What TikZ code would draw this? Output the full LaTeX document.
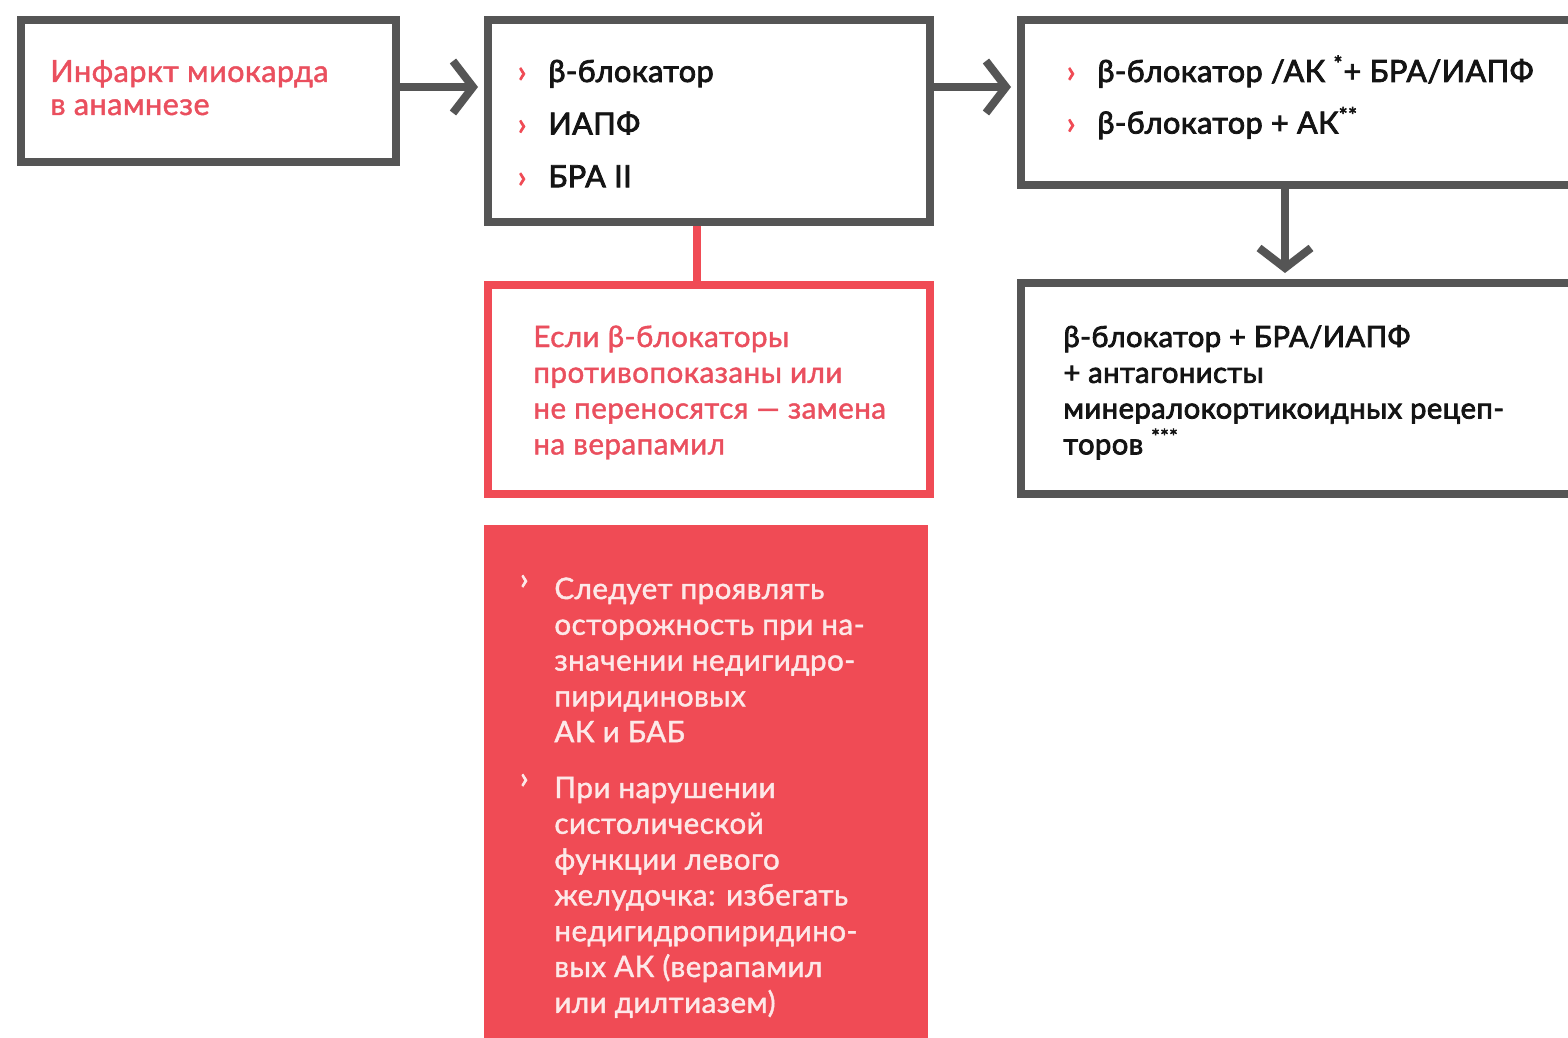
\documentclass[tikz,border=0pt]{standalone}
\usepackage{fontspec}
\setmainfont{Lato}[FakeBold=1.4, LetterSpace=1.5]
\newfontfamily\heavyfont{Lato}[FakeBold=2.6, LetterSpace=1.5]
\usetikzlibrary{arrows.meta}

\definecolor{frame}{HTML}{555555}
\definecolor{accent}{HTML}{F04B55}
\definecolor{rosetext}{HTML}{EA4F5E}
\definecolor{inktext}{HTML}{141414}
\definecolor{paletext}{HTML}{FDE8E8}

% bullet mark hanging left of a line
\newcommand\bulmark[1]{\leavevmode\llap{\textcolor{#1}{\heavyfont ›}\hspace{11pt}}}
\newcommand\bulraised[1]{\leavevmode\llap{\raisebox{5pt}{\textcolor{#1}{\heavyfont ›}}\hspace{13pt}}}

\tikzset{
  box/.style={draw=frame, line width=4pt, inner sep=0pt, anchor=north west},
  redbox/.style={draw=accent, line width=4pt, inner sep=0pt, anchor=north west},
  notebox/.style={fill=accent, draw=none, inner sep=0pt, anchor=north west},
  flow/.style={draw=frame, line width=4pt, -{Straight Barb[length=10pt,width=26pt]}},
  link/.style={draw=accent, line width=4pt},
  txt/.style={anchor=base west, inner sep=0pt},
  bigtext/.style={font=\heavyfont\fontsize{15.3}{26.3}\selectfont},
  redtext/.style={font=\fontsize{15.3}{16.5}\selectfont, text=rosetext},
  smalltext/.style={font=\fontsize{14.8}{17.9}\selectfont},
  smallheavy/.style={font=\heavyfont\fontsize{14.6}{17.9}\selectfont},
}

\begin{document}
\begin{tikzpicture}[x=0.5pt, y=-0.5pt]
  \useasboundingbox (0,0) rectangle (1568,1038);
  \clip (0,0) rectangle (1568,1038);
  \fill[white] (0,0) rectangle (1568,1038);

  % frames
  \node[box, minimum width=187.5pt, minimum height=71pt] (b1) at (17,16) {};
  \node[box, minimum width=221pt, minimum height=101pt] (b2) at (484,16) {};
  \node[box, minimum width=291.5pt, minimum height=82.5pt] (b3) at (1017,16) {};
  \node[box, minimum width=291.5pt, minimum height=105.5pt] (b4) at (1017,279) {};
  \node[redbox, minimum width=221pt, minimum height=104.5pt] (b5) at (484,281) {};
  \node[notebox, minimum width=222pt, minimum height=270pt] (b6) at (484,525) {};

  % connectors
  \draw[flow, shorten >=3pt] (b1.east |- 0,87) -- (b2.west |- 0,87);
  \draw[flow, shorten >=3pt] (b2.east |- 0,87) -- (b3.west |- 0,87);
  \coordinate (down) at (1285,0);
  \draw[flow, shorten >=3pt] (b3.south -| down) -- (b4.north -| down);
  \coordinate (side) at (697,0);
  \draw[link] (b2.south -| side) -- (b5.north -| side);

  % texts
  \node[txt, redtext] (t1) at (50,82)
    {\parbox[t]{180pt}{Инфаркт миокарда\\в анамнезе}};

  \node[txt, bigtext, text=inktext] (t2) at (548,82)
    {\parbox[t]{180pt}{\bulmark{accent}β-блокатор\\
      \bulmark{accent}ИАПФ\\
      \bulmark{accent}БРА II}};

  \node[txt, bigtext, text=inktext] (t3) at (1097,82)
    {\parbox[t]{260pt}{\bulmark{accent}β-блокатор /АК \textsuperscript{*}+ БРА/ИАПФ\\[-0.5pt]
      \bulmark{accent}β-блокатор + АК\textsuperscript{**}}};

  \node[txt, smallheavy, text=inktext] (t4) at (1063,347)
    {\parbox[t]{260pt}{β-блокатор + БРА/ИАПФ\\
      + антагонисты\\
      минералокортикоидных рецеп-\\
      торов \textsuperscript{***}}};

  \node[txt, smalltext, text=rosetext] (t5) at (533,347)
    {\parbox[t]{200pt}{Если β-блокаторы\\
      противопоказаны или\\
      не переносятся — замена\\
      на верапамил}};

  \node[txt, smalltext, text=paletext] (t6) at (554,599)
    {\parbox[t]{190pt}{\bulraised{paletext}Следует проявлять\\
      осторожность при на-\\
      значении недигидро-\\
      пиридиновых\\
      АК и БАБ\\[10pt]
      \bulraised{paletext}При нарушении\\
      систолической\\
      функции левого\\
      желудочка: избегать\\
      недигидропиридино-\\
      вых АК (верапамил\\
      или дилтиазем)}};
\end{tikzpicture}
\end{document}
